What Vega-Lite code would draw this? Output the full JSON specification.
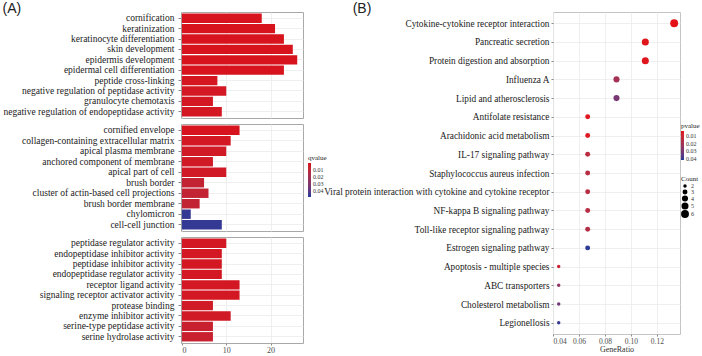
{
  "$schema": "https://vega.github.io/schema/vega-lite/v6.json",
  "padding": {"left": 2, "top": 1, "right": 0, "bottom": 0},
  "background": "white",
  "config": {
    "font": "Liberation Serif",
    "view": {"stroke": "#a8a8a8", "strokeWidth": 1},
    "axis": {"labelFont": "Liberation Serif", "titleFont": "Liberation Serif", "domain": false, "tickColor": "#888888", "tickSize": 3, "gridColor": "#ebebeb", "gridWidth": 0.8, "labelColor": "#1a1a1a", "titleFontWeight": "normal", "titleColor": "#333333"},
    "legend": {"labelFont": "Liberation Serif", "titleFont": "Liberation Serif", "titleFontWeight": "normal", "labelColor": "#333333", "titleColor": "#1a1a1a"},
    "title": {"font": "Liberation Sans", "fontSize": 14, "fontWeight": "normal", "color": "#222222"}
  },
  "datasets": {
    "go": [
      {"cat": "BP", "term": "cornification", "count": 18, "qvalue": 0.0005},
      {"cat": "BP", "term": "keratinization", "count": 21, "qvalue": 0.0005},
      {"cat": "BP", "term": "keratinocyte differentiation", "count": 23, "qvalue": 0.0005},
      {"cat": "BP", "term": "skin development", "count": 25, "qvalue": 0.0005},
      {"cat": "BP", "term": "epidermis development", "count": 26, "qvalue": 0.0005},
      {"cat": "BP", "term": "epidermal cell differentiation", "count": 23, "qvalue": 0.0005},
      {"cat": "BP", "term": "peptide cross-linking", "count": 8, "qvalue": 0.001},
      {"cat": "BP", "term": "negative regulation of peptidase activity", "count": 10, "qvalue": 0.002},
      {"cat": "BP", "term": "granulocyte chemotaxis", "count": 7, "qvalue": 0.002},
      {"cat": "BP", "term": "negative regulation of endopeptidase activity", "count": 9, "qvalue": 0.002},
      {"cat": "CC", "term": "cornified envelope", "count": 13, "qvalue": 0.0005},
      {"cat": "CC", "term": "collagen-containing extracellular matrix", "count": 11, "qvalue": 0.002},
      {"cat": "CC", "term": "apical plasma membrane", "count": 10, "qvalue": 0.003},
      {"cat": "CC", "term": "anchored component of membrane", "count": 7, "qvalue": 0.003},
      {"cat": "CC", "term": "apical part of cell", "count": 10, "qvalue": 0.003},
      {"cat": "CC", "term": "brush border", "count": 5, "qvalue": 0.008},
      {"cat": "CC", "term": "cluster of actin-based cell projections", "count": 6, "qvalue": 0.008},
      {"cat": "CC", "term": "brush border membrane", "count": 4, "qvalue": 0.008},
      {"cat": "CC", "term": "chylomicron", "count": 2, "qvalue": 0.046},
      {"cat": "CC", "term": "cell-cell junction", "count": 9, "qvalue": 0.046},
      {"cat": "MF", "term": "peptidase regulator activity", "count": 10, "qvalue": 0.002},
      {"cat": "MF", "term": "endopeptidase inhibitor activity", "count": 9, "qvalue": 0.002},
      {"cat": "MF", "term": "peptidase inhibitor activity", "count": 9, "qvalue": 0.002},
      {"cat": "MF", "term": "endopeptidase regulator activity", "count": 9, "qvalue": 0.002},
      {"cat": "MF", "term": "receptor ligand activity", "count": 13, "qvalue": 0.002},
      {"cat": "MF", "term": "signaling receptor activator activity", "count": 13, "qvalue": 0.002},
      {"cat": "MF", "term": "protease binding", "count": 7, "qvalue": 0.003},
      {"cat": "MF", "term": "enzyme inhibitor activity", "count": 11, "qvalue": 0.003},
      {"cat": "MF", "term": "serine-type peptidase activity", "count": 7, "qvalue": 0.006},
      {"cat": "MF", "term": "serine hydrolase activity", "count": 7, "qvalue": 0.006}
    ],
    "kegg": [
      {"term": "Cytokine-cytokine receptor interaction", "ratio": 0.1333, "count": 6, "pvalue": 0.003},
      {"term": "Pancreatic secretion", "ratio": 0.1111, "count": 5, "pvalue": 0.004},
      {"term": "Protein digestion and absorption", "ratio": 0.1111, "count": 5, "pvalue": 0.004},
      {"term": "Influenza A", "ratio": 0.0889, "count": 4, "pvalue": 0.02},
      {"term": "Lipid and atherosclerosis", "ratio": 0.0889, "count": 4, "pvalue": 0.03},
      {"term": "Antifolate resistance", "ratio": 0.0667, "count": 3, "pvalue": 0.004},
      {"term": "Arachidonic acid metabolism", "ratio": 0.0667, "count": 3, "pvalue": 0.005},
      {"term": "IL-17 signaling pathway", "ratio": 0.0667, "count": 3, "pvalue": 0.014},
      {"term": "Staphylococcus aureus infection", "ratio": 0.0667, "count": 3, "pvalue": 0.015},
      {"term": "Viral protein interaction with cytokine and cytokine receptor", "ratio": 0.0667, "count": 3, "pvalue": 0.015},
      {"term": "NF-kappa B signaling pathway", "ratio": 0.0667, "count": 3, "pvalue": 0.015},
      {"term": "Toll-like receptor signaling pathway", "ratio": 0.0667, "count": 3, "pvalue": 0.016},
      {"term": "Estrogen signaling pathway", "ratio": 0.0667, "count": 3, "pvalue": 0.041},
      {"term": "Apoptosis - multiple species", "ratio": 0.0444, "count": 2, "pvalue": 0.01},
      {"term": "ABC transporters", "ratio": 0.0444, "count": 2, "pvalue": 0.025},
      {"term": "Cholesterol metabolism", "ratio": 0.0444, "count": 2, "pvalue": 0.032},
      {"term": "Legionellosis", "ratio": 0.0444, "count": 2, "pvalue": 0.04}
    ]
  },
  "spacing": -5,
  "resolve": {"scale": {"color": "independent", "size": "independent", "y": "independent", "x": "independent"}, "legend": {"color": "independent", "size": "independent"}},
  "hconcat": [
    {
      "title": {"text": "(A)", "anchor": "start", "frame": "bounds", "offset": -4},
      "spacing": 4,
      "resolve": {"scale": {"color": "independent", "y": "independent"}, "legend": {"color": "independent"}},
      "vconcat": [
        {
          "width": 122, "height": 106,
          "data": {"name": "go"},
          "transform": [{"filter": "datum.cat == 'BP'"}],
          "mark": {"type": "bar"},
          "encoding": {
            "y": {"field": "term", "type": "nominal", "sort": null, "scale": {"paddingInner": 0.1, "paddingOuter": 0.15}, "axis": {"title": null, "labelFontSize": 9.5, "labelLimit": 400, "labelPadding": 4, "grid": true, "bandPosition": 0.5}},
            "x": {"field": "count", "type": "quantitative", "scale": {"domain": [-0.2, 27.3], "nice": false, "zero": false}, "axis": {"title": null, "labels": false, "ticks": false, "values": [0, 10, 20], "grid": true}},
            "color": {"field": "qvalue", "type": "quantitative", "scale": {"domain": [0.048, 0], "range": ["#1f3a98", "#d8121c"], "interpolate": "lab"}, "legend": null}
          }
        },
        {
          "width": 122, "height": 107,
          "data": {"name": "go"},
          "transform": [{"filter": "datum.cat == 'CC'"}],
          "mark": {"type": "bar"},
          "encoding": {
            "y": {"field": "term", "type": "nominal", "sort": null, "scale": {"paddingInner": 0.1, "paddingOuter": 0.15}, "axis": {"title": null, "labelFontSize": 9.5, "labelLimit": 400, "labelPadding": 4, "grid": true, "bandPosition": 0.5}},
            "x": {"field": "count", "type": "quantitative", "scale": {"domain": [-0.2, 27.3], "nice": false, "zero": false}, "axis": {"title": null, "labels": false, "ticks": false, "values": [0, 10, 20], "grid": true}},
            "color": {"field": "qvalue", "type": "quantitative", "scale": {"domain": [0.048, 0], "range": ["#1f3a98", "#d8121c"], "interpolate": "lab"}, "legend": {"title": "qvalue", "orient": "none", "legendX": 127, "legendY": 30, "gradientLength": 34, "gradientThickness": 3, "gradientStrokeWidth": 0, "titleFontSize": 7, "labelFontSize": 6, "titlePadding": 2, "labelOffset": 2, "values": [0.01, 0.02, 0.03, 0.04], "format": ".2f", "labelOverlap": false}}
          }
        },
        {
          "width": 122, "height": 106,
          "data": {"name": "go"},
          "transform": [{"filter": "datum.cat == 'MF'"}],
          "mark": {"type": "bar"},
          "encoding": {
            "y": {"field": "term", "type": "nominal", "sort": null, "scale": {"paddingInner": 0.1, "paddingOuter": 0.15}, "axis": {"title": null, "labelFontSize": 9.5, "labelLimit": 400, "labelPadding": 4, "grid": true, "bandPosition": 0.5}},
            "x": {"field": "count", "type": "quantitative", "scale": {"domain": [-0.2, 27.3], "nice": false, "zero": false}, "axis": {"title": null, "values": [0, 10, 20], "grid": true, "labelFontSize": 8, "labelColor": "#4d4d4d", "labelPadding": 1, "tickSize": 2}},
            "color": {"field": "qvalue", "type": "quantitative", "scale": {"domain": [0.048, 0], "range": ["#1f3a98", "#d8121c"], "interpolate": "lab"}, "legend": null}
          }
        }
      ]
    },
    {
      "title": {"text": "(B)", "anchor": "start", "frame": "bounds", "offset": -4, "dx": 29},
      "width": 127, "height": 322,
      "view": {"stroke": "#c4c4c4"},
      "data": {"name": "kegg"},
      "mark": {"type": "circle", "opacity": 1},
      "encoding": {
        "y": {"field": "term", "type": "nominal", "sort": null, "scale": {"type": "point", "padding": 0.6}, "axis": {"title": null, "labelFontSize": 9.3, "labelLimit": 400, "labelPadding": 2, "grid": true, "tickSize": 2}},
        "x": {"field": "ratio", "type": "quantitative", "scale": {"domain": [0.04, 0.1378], "nice": false, "zero": false}, "axis": {"title": "GeneRatio", "titleFontSize": 8, "titlePadding": 1, "values": [0.04, 0.06, 0.08, 0.1, 0.12], "format": ".2f", "grid": true, "labelFontSize": 7.5, "labelColor": "#4d4d4d", "labelPadding": 1, "tickSize": 2}},
        "color": {"field": "pvalue", "type": "quantitative", "scale": {"domain": [0.042, 0.003], "range": ["#1f3a98", "#e41218"], "interpolate": "lab"}, "legend": {"title": "pvalue", "orient": "none", "legendX": 128, "legendY": 110, "gradientLength": 29, "gradientThickness": 3, "gradientStrokeWidth": 0, "titleFontSize": 7, "labelFontSize": 6, "titlePadding": 2, "labelOffset": 2, "values": [0.01, 0.02, 0.03, 0.04], "format": ".2f", "labelOverlap": false}},
        "size": {"field": "count", "type": "quantitative", "scale": {"domain": [2, 6], "range": [12, 62]}, "legend": {"title": "Count", "orient": "none", "legendX": 128, "legendY": 163, "values": [2, 3, 4, 5, 6], "symbolFillColor": "black", "symbolStrokeWidth": 0, "titleFontSize": 7, "labelFontSize": 6, "titlePadding": 1, "rowPadding": 0, "labelOffset": 2, "symbolType": "circle"}}
      }
    }
  ]
}
